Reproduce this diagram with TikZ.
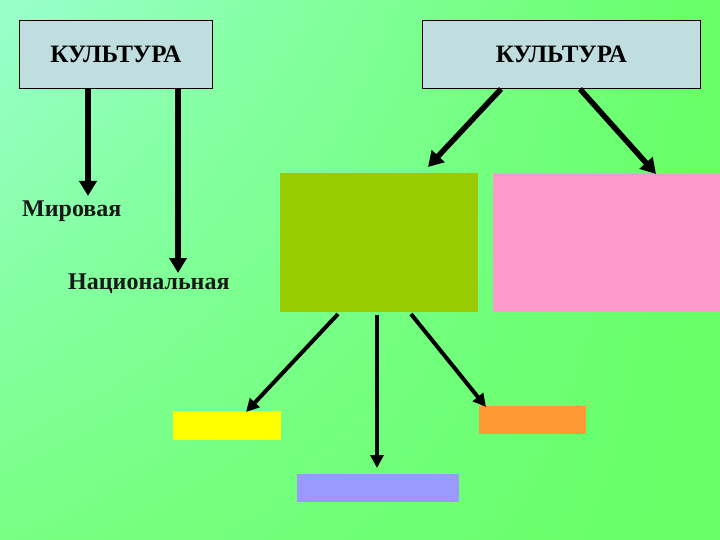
\documentclass[tikz,border=0pt]{standalone}
\usepackage{fontspec}
\setmainfont{Liberation Serif}
\usetikzlibrary{arrows.meta,shadings}
\definecolor{bgA}{HTML}{99FFCC}
\definecolor{bgB}{HTML}{66FF66}
\definecolor{bgC}{HTML}{78FF84}
\definecolor{boxblue}{HTML}{C0DDE0}
\definecolor{olive}{HTML}{99CC00}
\definecolor{pinkbox}{HTML}{FF99CC}
\definecolor{yel}{HTML}{FFFF00}
\definecolor{lav}{HTML}{9999FF}
\definecolor{orng}{HTML}{FF9933}
\tikzset{
  x=1pt,y=-1pt,
  kbox/.style={draw=black,line width=0.8pt,fill=boxblue,anchor=north west,inner sep=0pt,
    font=\bfseries\fontsize{25}{30}\selectfont},
  cbox/.style={anchor=north west,inner sep=0pt,draw=none},
  lbl/.style={font=\bfseries\fontsize{24}{28}\selectfont,inner sep=0pt,text=black!90},
  bigarrow/.style={line width=5.5pt,-{Triangle[width=17pt,length=15pt]}},
  midarrow/.style={line width=4pt,-{Triangle[width=13pt,length=13pt]}},
}
\begin{document}
\begin{tikzpicture}
\shade[upper left=bgA,upper right=bgB,lower left=bgC,lower right=bgB] (0,0) rectangle (720,540);
\useasboundingbox (0,0) rectangle (720,540);
% boxes
\node[kbox,minimum width=193pt,minimum height=68pt] (k1) at (19,20) {КУЛЬТУРА};
\node[kbox,minimum width=278pt,minimum height=68pt] (k2) at (422,20) {КУЛЬТУРА};
\node[cbox,fill=olive,minimum width=198pt,minimum height=139pt] (ol) at (280,173) {};
\node[cbox,fill=pinkbox,minimum width=227pt,minimum height=139pt] (pk) at (493,173) {};
\node[cbox,fill=yel,minimum width=108pt,minimum height=29pt] (ye) at (173,411) {};
\node[cbox,fill=lav,minimum width=162pt,minimum height=28pt] (pu) at (297,474) {};
\node[cbox,fill=orng,minimum width=107pt,minimum height=28pt] (or) at (479,406) {};
% labels
\node[lbl,anchor=west] (mir) at (22,211) {Мировая};
\node[lbl,anchor=west] (nat) at (68,284) {Национальная};
% connector points
\coordinate (a1) at (88,88);
\coordinate (a1e) at (88,196);
\coordinate (a2) at (178,88);
\coordinate (a2e) at (178,273);
\coordinate (b1) at (501,89);
\coordinate (b1e) at (428,167);
\coordinate (b2) at (580,89);
\coordinate (b2e) at (656,174);
\coordinate (c1) at (338,314);
\coordinate (c1e) at (246,412);
\coordinate (c2) at (377,315);
\coordinate (c2e) at (377,468);
\coordinate (c3) at (411,314);
\coordinate (c3e) at (486,407);
\draw[bigarrow] (a1) -- (a1e);
\draw[bigarrow] (a2) -- (a2e);
\draw[bigarrow] (b1) -- (b1e);
\draw[bigarrow] (b2) -- (b2e);
\draw[midarrow] (c1) -- (c1e);
\draw[midarrow] (c2) -- (c2e);
\draw[midarrow] (c3) -- (c3e);
\end{tikzpicture}
\end{document}
